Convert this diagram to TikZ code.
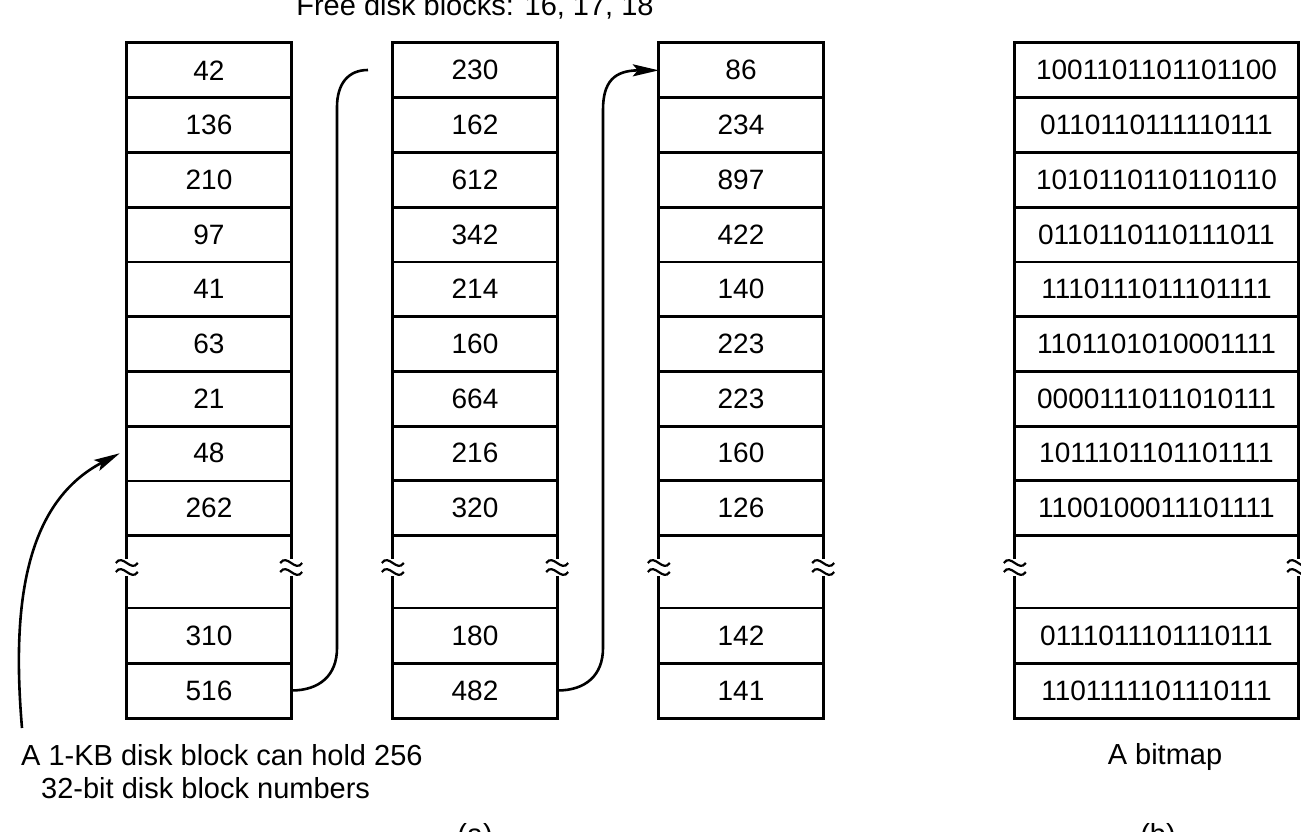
\documentclass[tikz,border=0pt]{standalone}
\usepackage{fontspec}
\setmainfont{Liberation Sans}
\usetikzlibrary{arrows.meta}
\begin{document}
\begin{tikzpicture}[x=1pt,y=-1pt,
  cell/.style={inner sep=0pt, minimum height=54.7pt, font=\fontsize{28}{30}\selectfont},
  frame/.style={line width=2.9pt},
  conn/.style={line width=2.6pt},
  tip/.style={-{Stealth[length=26pt,width=12pt,inset=5pt]}},
  lbl/.style={font=\fontsize{29}{31}\selectfont, inner sep=0pt},
  brk/.pic={
    \draw[line width=2.2pt] (-11,-4.5) .. controls (-4,-14.5) and (4,5.5) .. (11,-4.5);
    \draw[line width=2.2pt] (-11,4.5) .. controls (-4,-5.5) and (4,14.5) .. (11,4.5);
  }
]
\useasboundingbox (0,0) rectangle (1301,832);

% cells
\foreach \c/\cx/\w/\vals in {
  1/209/164/{42,136,210,97,41,63,21,48,262,310,516},
  2/475/164/{230,162,612,342,214,160,664,216,320,180,482},
  3/741/164/{86,234,897,422,140,223,223,160,126,142,141},
  4/1156.5/283/{1001101101101100,0110110111110111,1010110110110110,0110110110111011,1110111011101111,1101101010001111,0000111011010111,1011101101101111,1100100011101111,0111011101110111,1101111101110111}}{
  \foreach \v [count=\r] in \vals {
    \pgfmathsetmacro\yc{\r<10 ? 43+(\r-0.5)*54.7 : 608+(\r-9.5)*55}
    \node[cell, minimum width=\w pt] (c\c-\r) at (\cx,\yc) {\v};
  }
}

% frames
\foreach \c in {1,2,3,4}{
  \draw[frame] (c\c-1.north west) rectangle (c\c-9.south east);
  \foreach \r in {1,...,8}{
    \pgfmathsetmacro\lw{(\c==1 && \r==8) ? 1.4 : 2.9}
    \draw[line width=\lw pt] (c\c-\r.south west) -- (c\c-\r.south east);
  }
  \draw[frame] (c\c-10.north west) rectangle (c\c-11.south east);
  \draw[frame] (c\c-10.south west) -- (c\c-10.south east);
  \draw[frame] (c\c-9.south west) -- ++(0,23) (c\c-10.north west) -- ++(0,-32);
  \draw[frame] (c\c-9.south east) -- ++(0,23) (c\c-10.north east) -- ++(0,-32);
  \path (c\c-9.south west) ++(0,32) pic{brk};
  \path (c\c-9.south east) ++(0,32) pic{brk};
}

% connectors
\coordinate (e1) at (368,70);
\draw[conn] (c1-11.east) .. controls (320,690.5) and (337,675) .. (337,648)
  -- (337,107) .. controls (337,84) and (348,70) .. (e1);
\draw[conn,tip] (c2-11.east) .. controls (586,690.5) and (603,675) .. (603,648)
  -- (603,110) .. controls (603,82) and (614,70.35) .. (c3-1.west);
\coordinate (s0) at (22,728);
\draw[conn,tip] (s0) .. controls (12,610) and (23,504) .. ([xshift=-7pt]c1-8.west);

% labels
\node[lbl, anchor=base] (title) at (475,16) {Free disk blocks: 16, 17, 18};
\node[lbl, anchor=base west] (capA1) at (21,765) {A 1-KB disk block can hold 256};
\node[lbl, anchor=base west] (capA2) at (41,798) {32-bit disk block numbers};
\node[lbl, anchor=base] (capB) at (1165,764) {A bitmap};
\node[lbl, anchor=base] (suba) at (475,844) {(a)};
\node[lbl, anchor=base] (subb) at (1158,844) {(b)};
\end{tikzpicture}
\end{document}
